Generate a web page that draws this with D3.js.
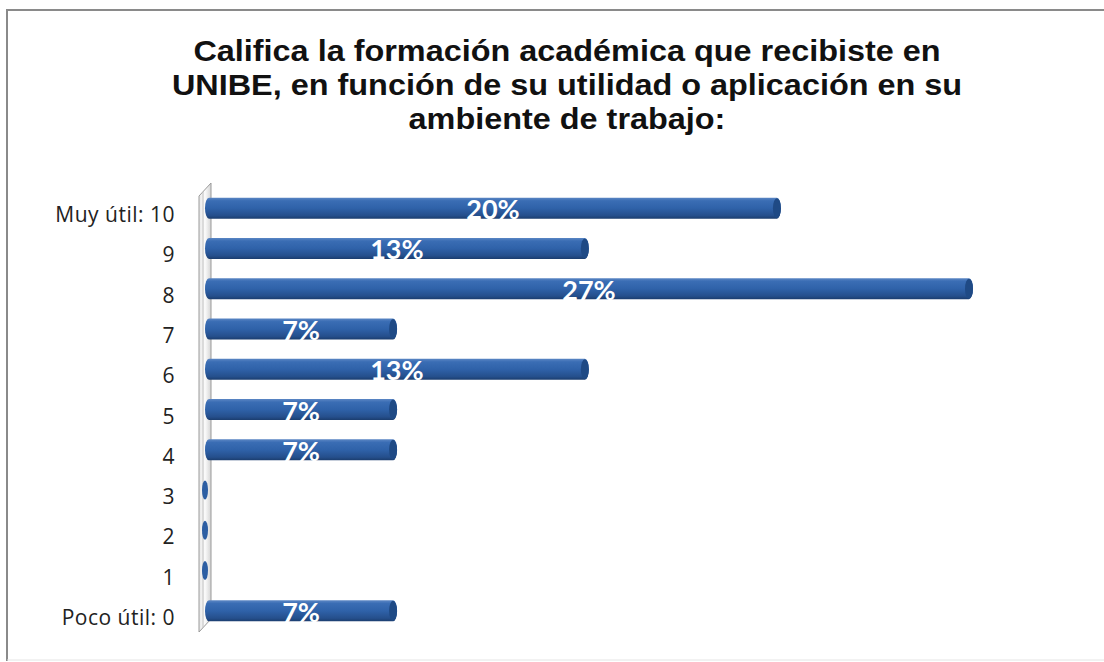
<!DOCTYPE html>
<html><head><meta charset="utf-8">
<script src="https://cdn.jsdelivr.net/npm/d3@7"></script>
<style>body{margin:0;background:#fff}svg{display:block}</style>
</head><body>
<svg id="c" width="1104" height="662"></svg>
<script>
const titleLines = ["Califica la formación académica que recibiste en","UNIBE, en función de su utilidad o aplicación en su","ambiente de trabajo:"];
const categories = ["Muy útil: 10","9","8","7","6","5","4","3","2","1","Poco útil: 0"];
const values = [20, 13.33, 26.67, 6.67, 13.33, 6.67, 6.67, 0, 0, 0, 6.67];
const labels = ["20%","13%","27%","7%","13%","7%","7%","","","","7%"];

const svg = d3.select("#c");
const defs = svg.append("defs");
const g1 = defs.append("linearGradient").attr("id","barg").attr("x1",0).attr("y1",0).attr("x2",0).attr("y2",1);
[[0,"#5b86c4"],[0.15,"#3a6db4"],[0.5,"#2f62a9"],[0.85,"#254f8c"],[1,"#1b3d6e"]].forEach(d=>g1.append("stop").attr("offset",d[0]).attr("stop-color",d[1]));
const g2 = defs.append("linearGradient").attr("id","wallg").attr("x1",0).attr("y1",0).attr("x2",1).attr("y2",0);
[[0,"#e8e8e8"],[0.5,"#fbfbfb"],[1,"#d5d5d5"]].forEach(d=>g2.append("stop").attr("offset",d[0]).attr("stop-color",d[1]));

// frame
svg.append("path").attr("d","M7,661 L7,10 L1104,10").attr("fill","none").attr("stroke","#8a8a8a").attr("stroke-width",2);
svg.append("line").attr("x1",7).attr("x2",1104).attr("y1",660).attr("y2",660).attr("stroke","#e4e4e4");

// title
const tg = svg.append("g").attr("transform","translate(567,0) scale(1.08,1)");
tg.selectAll("text").data(titleLines).join("text").attr("x",0).attr("y",(d,i)=>61+i*34).attr("text-anchor","middle")
  .style("font-family","Liberation Sans, Arial, sans-serif").style("font-weight","bold").style("font-size","30px").attr("fill","#111")
  .text(d=>d);

const x = d3.scaleLinear().domain([0,26.67]).range([205,973]);
const y = d3.scaleBand().domain(categories).range([188,631]).paddingInner(0.5).paddingOuter(0.25);
const bh = 21;

// wall
svg.append("path").attr("d","M199,196 L211,183 L211,619 L199,632 Z").attr("fill","url(#wallg)").attr("stroke","#9a9a9a").attr("stroke-width",1);
svg.append("line").attr("x1",203).attr("x2",203).attr("y1",192).attr("y2",628).attr("stroke","#c0c0c0").attr("stroke-width",1);

const cy = d => y(d)+y.bandwidth()/2;

// y axis labels
svg.append("g").selectAll("text").data(categories).join("text")
  .attr("x",175).attr("y",d=>cy(d)+14).attr("text-anchor","end")
  .style("font-family","Open Sans, sans-serif").style("font-size","21px").style("letter-spacing","0.5px").attr("fill","#222").text(d=>d);

const bars = svg.append("g");
categories.forEach((c,i)=>{
  const v = values[i];
  const yc = cy(c);
  if (v>0){
    const x0 = x(0), x1 = x(v);
    bars.append("path")
      .attr("d",`M${x0+4},${yc-bh/2} L${x1-4},${yc-bh/2} A4,${bh/2} 0 0 1 ${x1-4},${yc+bh/2} L${x0+4},${yc+bh/2} A4,${bh/2} 0 0 1 ${x0+4},${yc-bh/2} Z`)
      .attr("fill","url(#barg)");
    bars.append("ellipse").attr("cx",x1-4).attr("cy",yc).attr("rx",4).attr("ry",bh/2-0.5).attr("fill","#1f4a85");
  } else {
    bars.append("ellipse").attr("cx",x(0)).attr("cy",yc).attr("rx",3).attr("ry",bh/2-1).attr("fill","#2c5ea3");
  }
});

svg.append("g").selectAll("text").data(categories).join("text")
  .attr("x",(d,i)=>(x(0)+x(values[i]))/2).attr("y",d=>cy(d)+11).attr("text-anchor","middle")
  .style("font-family","Lato, Carlito, sans-serif").style("font-weight","bold").style("font-size","27px").attr("fill","#fff")
  .text((d,i)=>labels[i]);
</script>
</body></html>
